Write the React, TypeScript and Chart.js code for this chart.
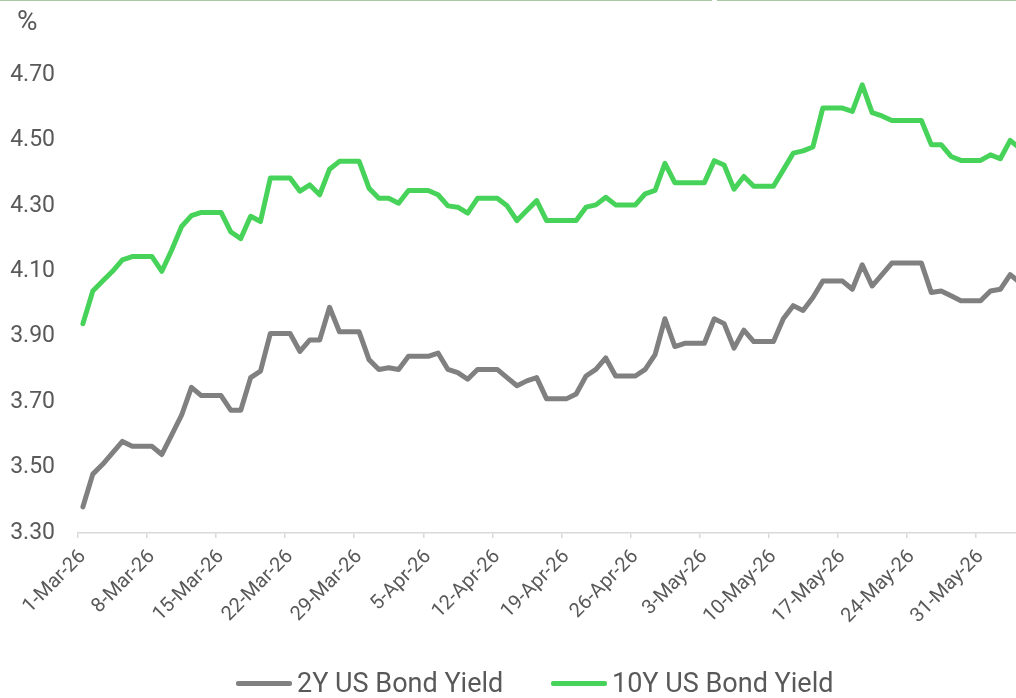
import React, { useEffect, useRef } from "react";
import { Chart, registerables } from "chart.js";

Chart.register(...registerables);

// Categories: one per calendar day, 1-Mar-26 .. 4-Jun-26
const dateLabels: string[] = [
  "1-Mar-26", "2-Mar-26", "3-Mar-26", "4-Mar-26", "5-Mar-26", "6-Mar-26", "7-Mar-26",
  "8-Mar-26", "9-Mar-26", "10-Mar-26", "11-Mar-26", "12-Mar-26", "13-Mar-26", "14-Mar-26",
  "15-Mar-26", "16-Mar-26", "17-Mar-26", "18-Mar-26", "19-Mar-26", "20-Mar-26", "21-Mar-26",
  "22-Mar-26", "23-Mar-26", "24-Mar-26", "25-Mar-26", "26-Mar-26", "27-Mar-26", "28-Mar-26",
  "29-Mar-26", "30-Mar-26", "31-Mar-26",
  "1-Apr-26", "2-Apr-26", "3-Apr-26", "4-Apr-26",
  "5-Apr-26", "6-Apr-26", "7-Apr-26", "8-Apr-26", "9-Apr-26", "10-Apr-26", "11-Apr-26",
  "12-Apr-26", "13-Apr-26", "14-Apr-26", "15-Apr-26", "16-Apr-26", "17-Apr-26", "18-Apr-26",
  "19-Apr-26", "20-Apr-26", "21-Apr-26", "22-Apr-26", "23-Apr-26", "24-Apr-26", "25-Apr-26",
  "26-Apr-26", "27-Apr-26", "28-Apr-26", "29-Apr-26", "30-Apr-26",
  "1-May-26", "2-May-26",
  "3-May-26", "4-May-26", "5-May-26", "6-May-26", "7-May-26", "8-May-26", "9-May-26",
  "10-May-26", "11-May-26", "12-May-26", "13-May-26", "14-May-26", "15-May-26", "16-May-26",
  "17-May-26", "18-May-26", "19-May-26", "20-May-26", "21-May-26", "22-May-26", "23-May-26",
  "24-May-26", "25-May-26", "26-May-26", "27-May-26", "28-May-26", "29-May-26", "30-May-26",
  "31-May-26", "1-Jun-26", "2-Jun-26", "3-Jun-26", "4-Jun-26",
];

const yield2Y: number[] = [
  3.38, 3.48, 3.51, 3.545, 3.58, 3.565, 3.565,
  3.565, 3.54, 3.6, 3.66, 3.745, 3.72, 3.72,
  3.72, 3.675, 3.675, 3.775, 3.795, 3.91, 3.91,
  3.91, 3.855, 3.89, 3.89, 3.99, 3.915, 3.915,
  3.915, 3.83, 3.8,
  3.805, 3.8, 3.84, 3.84,
  3.84, 3.85, 3.8, 3.79, 3.77, 3.8, 3.8,
  3.8, 3.775, 3.75, 3.765, 3.775, 3.71, 3.71,
  3.71, 3.725, 3.78, 3.8, 3.835, 3.78, 3.78,
  3.78, 3.8, 3.845, 3.955, 3.87,
  3.88, 3.88,
  3.88, 3.955, 3.94, 3.865, 3.92, 3.885, 3.885,
  3.885, 3.955, 3.995, 3.98, 4.02, 4.07, 4.07,
  4.07, 4.045, 4.12, 4.055, 4.09, 4.125, 4.125,
  4.125, 4.125, 4.035, 4.04, 4.025, 4.01, 4.01,
  4.01, 4.04, 4.045, 4.09, 4.065,
];

const yield10Y: number[] = [
  3.94, 4.04, 4.07, 4.1, 4.135, 4.145, 4.145,
  4.145, 4.1, 4.165, 4.237, 4.27, 4.28, 4.28,
  4.28, 4.22, 4.2, 4.268, 4.252, 4.385, 4.385,
  4.385, 4.345, 4.364, 4.334, 4.412, 4.436, 4.436,
  4.436, 4.354, 4.323,
  4.323, 4.308, 4.347, 4.347,
  4.347, 4.334, 4.3, 4.296, 4.278, 4.323, 4.323,
  4.323, 4.3, 4.255, 4.286, 4.316, 4.255, 4.255,
  4.255, 4.255, 4.296, 4.303, 4.326, 4.303, 4.303,
  4.303, 4.337, 4.347, 4.43, 4.371,
  4.371, 4.371,
  4.371, 4.438, 4.425, 4.351, 4.39, 4.36, 4.36,
  4.36, 4.41, 4.461, 4.468, 4.48, 4.599, 4.599,
  4.599, 4.589, 4.67, 4.585, 4.575, 4.561, 4.561,
  4.561, 4.561, 4.487, 4.487, 4.451, 4.439, 4.439,
  4.439, 4.456, 4.444, 4.5, 4.475,
];

const seriesNames = ["2Y US Bond Yield", "10Y US Bond Yield"];
const seriesColors = ["#808080", "#47d35a"];
const yMin = 3.3;
const yMax = 4.7;
const yStep = 0.2;
const labelEvery = 7;
const unitLabel = "%";

const TEXT = "#595959";
const AXIS = "#d9d9d9";

const unitPlugin = {
  id: "unitLabel",
  afterDraw(chart: any) {
    const ctx = chart.ctx;
    ctx.save();
    ctx.font = '28px Roboto';
    ctx.fillStyle = TEXT;
    ctx.textAlign = "left";
    ctx.textBaseline = "middle";
    ctx.fillText(unitLabel, 17, 23);
    ctx.restore();
  },
};

export default function App() {
  const ref = useRef<HTMLCanvasElement | null>(null);

  useEffect(() => {
    if (!ref.current) return;
    const chart = new Chart(ref.current, {
      type: "line",
      data: {
        labels: dateLabels,
        datasets: [
          {
            label: seriesNames[0],
            data: yield2Y,
            borderColor: seriesColors[0],
            backgroundColor: seriesColors[0],
            borderWidth: 5,
            pointRadius: 0,
            tension: 0,
            borderJoinStyle: "round",
            borderCapStyle: "round",
          },
          {
            label: seriesNames[1],
            data: yield10Y,
            borderColor: seriesColors[1],
            backgroundColor: seriesColors[1],
            borderWidth: 5,
            pointRadius: 0,
            tension: 0,
            borderJoinStyle: "round",
            borderCapStyle: "round",
          },
        ],
      },
      options: {
        animation: false,
        responsive: false,
        maintainAspectRatio: false,
        layout: { padding: { left: 0, right: 0, top: 75, bottom: 0 } },
        plugins: {
          legend: { display: false },
          tooltip: { enabled: false },
        },
        scales: {
          x: {
            type: "category",
            offset: true,
            afterFit: (scale: any) => {
              scale.height = 698 - 75 - 458;
              scale.paddingLeft = 0;
              scale.paddingRight = 0;
            },
            grid: {
              offset: true,
              drawOnChartArea: false,
              drawTicks: true,
              tickLength: 5,
              lineWidth: 1.5,
              color: (c: any) => (c.index % labelEvery === 0 ? AXIS : "rgba(0,0,0,0)"),
            },
            border: { display: true, color: AXIS, width: 1.5 },
            ticks: {
              autoSkip: false,
              minRotation: 45,
              maxRotation: 45,
              padding: 7,
              color: TEXT,
              font: { family: "Roboto", size: 20 },
              callback: (_v: any, i: number) => (i % labelEvery === 0 ? dateLabels[i] : ""),
            },
          },
          y: {
            min: yMin,
            max: yMax,
            afterFit: (scale: any) => {
              scale.width = 78;
            },
            grid: { display: false, drawTicks: false },
            border: { display: false },
            ticks: {
              stepSize: yStep,
              padding: 23,
              color: TEXT,
              font: { family: "Roboto", size: 23 },
              callback: (v: any) => Number(v).toFixed(2),
            },
          },
        },
      },
      plugins: [unitPlugin],
    });
    return () => chart.destroy();
  }, []);

  const legendItem = (i: number, left: number) => (
    <div
      style={{
        position: "absolute",
        left,
        top: 667,
        height: 32,
        display: "flex",
        alignItems: "center",
        fontFamily: "Roboto",
        fontSize: 27,
        color: TEXT,
        whiteSpace: "nowrap",
      }}
    >
      <span
        style={{
          display: "inline-block",
          width: 56,
          height: 5,
          borderRadius: 2,
          background: seriesColors[i],
          marginRight: 5,
        }}
      />
      <span>{seriesNames[i]}</span>
    </div>
  );

  return (
    <div
      style={{
        position: "fixed",
        left: 0,
        top: 0,
        width: 1016,
        height: 698,
        overflow: "hidden",
        background: "#ffffff",
      }}
    >
      <div style={{ position: "absolute", left: 0, top: 0, width: 712, height: 1, background: "#aac8a3" }} />
      <div style={{ position: "absolute", left: 717, top: 0, width: 299, height: 1, background: "#aac8a3" }} />
      <canvas ref={ref} width={1025} height={698} style={{ display: "block", width: 1025, height: 698 }} />
      {legendItem(0, 236)}
      {legendItem(1, 551)}
    </div>
  );
}
